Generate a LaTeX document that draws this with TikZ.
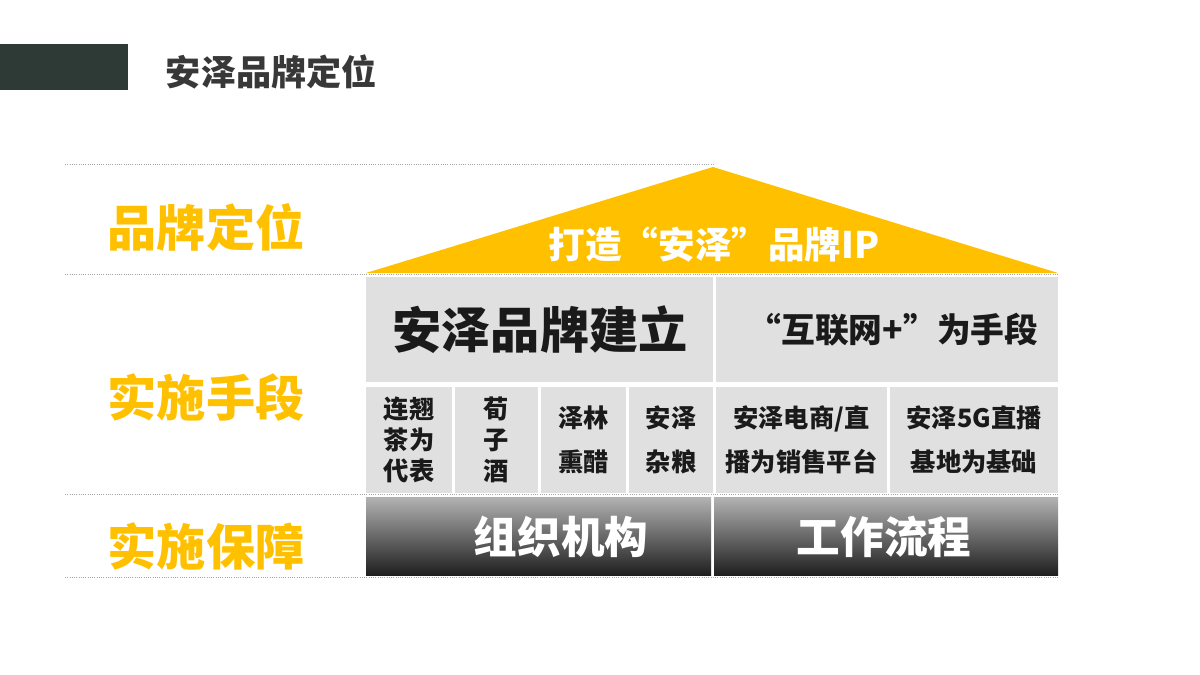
\documentclass[tikz,border=0pt]{standalone}
\usepackage{fontspec}
\setmainfont{Noto Sans CJK SC}
\definecolor{bargreen}{HTML}{2D3A36}
\definecolor{gold}{HTML}{FFC000}
\definecolor{cellgray}{HTML}{E0E0E0}
\definecolor{ink}{HTML}{1A1A1A}
\tikzset{
  guide/.style={gray!70,densely dotted,line width=0.6pt},
  cell/.style={fill=cellgray},
  dark/.style={top color=black!30,bottom color=black!88},
  side/.style={text=gold,font=\bfseries\fontsize{35}{40}\selectfont},
  small/.style={text=ink,align=center,font=\bfseries\fontsize{18}{22}\selectfont}
}
\begin{document}
\begin{tikzpicture}[x=0.025cm,y=-0.025cm]
         \useasboundingbox (0,0) rectangle (1200,675);
         \fill[bargreen] (0,44) rectangle (128,90);
         \node[anchor=west,text=black!78,font=\bfseries\fontsize{25}{30}\selectfont] (title) at (161,72) {安泽品牌定位};
         \foreach \yy/\xe in {164/713,274/1058,494/1058,577/1058} {\draw[guide] (65,\yy) -- (\xe,\yy);}
         \fill[gold] (366,273) -- (713,167) -- (1058,273) -- cycle;
         \node[text=white,font=\bfseries\fontsize{26}{30}\selectfont] (roof) at (714,245) {打造“安泽”品牌IP};
         \node[side] (lab1) at (206,227) {品牌定位};
         \node[side] (lab2) at (206,398) {实施手段};
         \node[side] (lab3) at (206,546) {实施保障};
         \fill[cell] (366,277) rectangle (713,382);
         \fill[cell] (716,277) rectangle (1058,382);
         \node[text=ink,font=\bfseries\fontsize{35}{40}\selectfont] (build) at (540,330) {安泽品牌建立};
         \node[text=ink,font=\bfseries\fontsize{24}{28}\selectfont] (web) at (893,330) {“互联网+”为手段};
         \foreach \xa/\xb/\txt/\nm in {366/452/{连翘\\茶为\\代表}/tea,455/538/{荀\\子\\酒}/wine,541/626/{泽林\\[9pt]熏醋}/vinegar,629/713/{安泽\\[9pt]杂粮}/grain,716/887/{安泽电商/直\\[9pt]播为销售平台}/shop,890/1058/{安泽5G直播\\[9pt]基地为基础}/live} {
           \fill[cell] (\xa,387) rectangle (\xb,493);
           \node[small] (\nm) at ({(\xa+\xb)/2},440) {\txt};
         }
         \shade[dark] (366,497) rectangle (711,575);
         \shade[dark] (714,497) rectangle (1058,575);
         \node[text=white,font=\bfseries\fontsize{31}{36}\selectfont] (org) at (561,537) {组织机构};
         \node[text=white,font=\bfseries\fontsize{31}{36}\selectfont] (flow) at (884,537) {工作流程};
      \end{tikzpicture}
\end{document}
